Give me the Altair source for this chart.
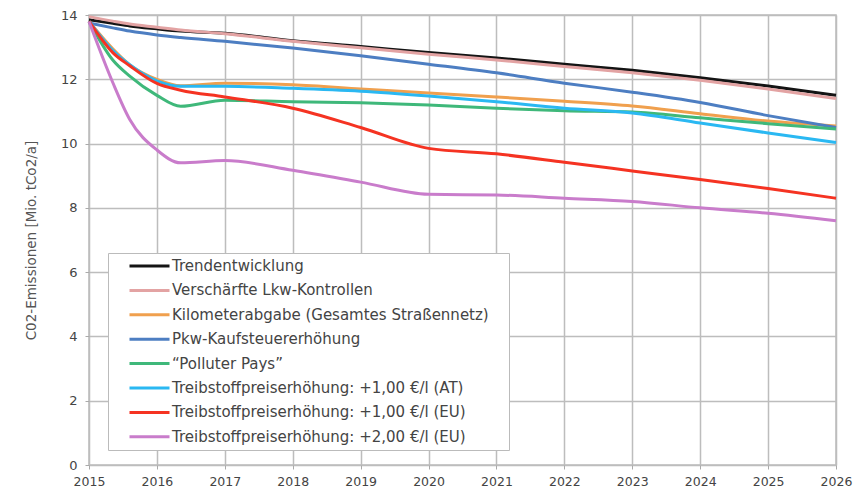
import altair as alt
import pandas as pd

years = [2015, 2015.35, 2015.6, 2016, 2016.35, 2017, 2018, 2019, 2020, 2021, 2022, 2023, 2024, 2025, 2026]

series_names = [
    "Trendentwicklung",
    "Verschärfte Lkw-Kontrollen",
    "Kilometerabgabe (Gesamtes Straßennetz)",
    "Pkw-Kaufsteuererhöhung",
    "\u201cPolluter Pays\u201d",
    "Treibstoffpreiserhöhung: +1,00 €/l (AT)",
    "Treibstoffpreiserhöhung: +1,00 €/l (EU)",
    "Treibstoffpreiserhöhung: +2,00 €/l (EU)",
]

trend = [13.85, 13.74, 13.66, 13.57, 13.5, 13.43, 13.2, 13.02, 12.83, 12.66, 12.47, 12.28, 12.05, 11.79, 11.5]
lkw = [13.95, 13.81, 13.72, 13.62, 13.53, 13.42, 13.18, 12.98, 12.78, 12.6, 12.4, 12.2, 11.97, 11.7, 11.4]
km = [13.8, 12.95, 12.45, 12.0, 11.8, 11.88, 11.83, 11.7, 11.57, 11.45, 11.32, 11.17, 10.93, 10.7, 10.55]
pkw = [13.75, 13.6, 13.5, 13.38, 13.3, 13.18, 12.97, 12.73, 12.47, 12.2, 11.88, 11.6, 11.28, 10.87, 10.5]
polluter = [13.8, 12.6, 12.1, 11.5, 11.16, 11.35, 11.3, 11.27, 11.2, 11.1, 11.02, 10.98, 10.8, 10.62, 10.45]
fuel_at = [13.8, 12.9, 12.45, 11.95, 11.78, 11.78, 11.72, 11.63, 11.48, 11.3, 11.1, 10.95, 10.64, 10.33, 10.03]
fuel_eu1 = [13.8, 12.83, 12.42, 11.87, 11.66, 11.45, 11.1, 10.5, 9.85, 9.68, 9.42, 9.15, 8.88, 8.6, 8.3]
fuel_eu2 = [13.8, 11.9, 10.75, 9.8, 9.4, 9.47, 9.17, 8.8, 8.42, 8.4, 8.3, 8.2, 8.0, 7.83, 7.6]

colors = ["#141414", "#e3a3a3", "#f0a04e", "#4d7ec2", "#3fb87a", "#2ab8f2", "#f53322", "#c97ccb"]

all_values = [trend, lkw, km, pkw, polluter, fuel_at, fuel_eu1, fuel_eu2]
rows = []
for name, vals in zip(series_names, all_values):
    for yr, v in zip(years, vals):
        rows.append({"Jahr": yr, "Wert": v, "Szenario": name})
df = pd.DataFrame(rows)

font = "DejaVu Sans"

chart = alt.Chart(df).mark_line(strokeWidth=3, interpolate="monotone").encode(
    x=alt.X("Jahr:Q",
            scale=alt.Scale(domain=[2015, 2026], nice=False, zero=False),
            axis=alt.Axis(values=list(range(2015, 2027)), format="d", title=None,
                          labelFontSize=12.5, labelColor="#444444", labelPadding=6,
                          labelFlush=False, labelOverlap=False,
                          tickSize=4, tickColor="#aaaaaa", domain=False,
                          gridColor="#bdbdbd", gridWidth=1.5)),
    y=alt.Y("Wert:Q",
            scale=alt.Scale(domain=[0, 14], nice=False),
            axis=alt.Axis(values=list(range(0, 15, 2)), title="C02-Emissionen [Mio. tCo2/a]",
                          titleFontSize=13.5, titleFontWeight="normal", titleColor="#555555",
                          titlePadding=22,
                          labelFontSize=13, labelColor="#444444", labelPadding=8,
                          labelFlush=False,
                          tickSize=4, tickColor="#aaaaaa", domain=False,
                          gridColor="#bdbdbd", gridWidth=1.5)),
    color=alt.Color("Szenario:N",
                    scale=alt.Scale(domain=series_names, range=colors),
                    sort=series_names,
                    legend=alt.Legend(title="\u00a0", titleOrient="right", titlePadding=16,
                                      titleFontSize=8,
                                      orient="none", legendX=19, legendY=238,
                                      symbolType="stroke", symbolSize=1600, symbolStrokeWidth=3,
                                      symbolOffset=16, labelOffset=1,
                                      labelFontSize=15, labelColor="#444444", labelLimit=500,
                                      rowPadding=6.4, padding=4, clipHeight=18,
                                      fillColor="white", strokeColor="#bbbbbb")),
    order=alt.Order("Szenario:N"),
).properties(
    width=747, height=450,
    autosize="none",
    padding={"left": 81, "top": 7, "right": 17, "bottom": 22},
).configure(font=font).configure_view(stroke="#bdbdbd", strokeWidth=1.5)

chart.save("out.html", embed_options={"renderer": "svg", "actions": False})
